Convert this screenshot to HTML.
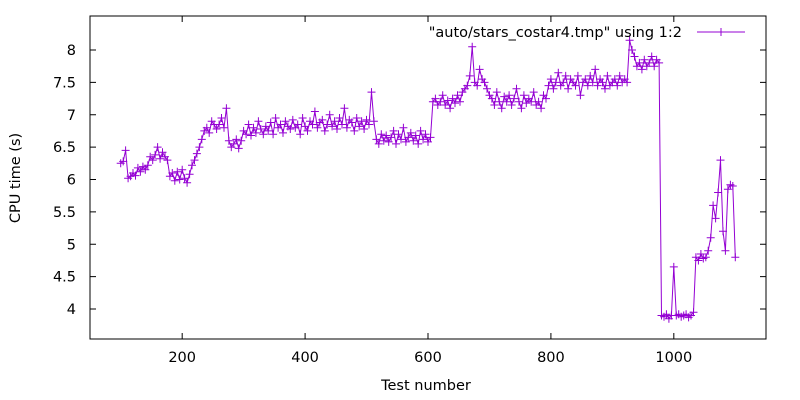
<!DOCTYPE html>
<html><head><meta charset="utf-8"><style>
body{margin:0;background:#fff;}
svg{display:block;font-family:"DejaVu Sans","Liberation Sans",sans-serif;}
</style></head><body>
<svg id="chart" width="800" height="400" viewBox="0 0 800 400">
<rect x="0" y="0" width="800" height="400" fill="#fff"/>
<g id="ticks"></g>
<g id="series"></g>
<rect x="90" y="16" width="676" height="323" fill="none" stroke="#000" stroke-width="1"/>
<text x="20" y="178" font-size="14.5" text-anchor="middle" transform="rotate(-90 20 178)">CPU time (s)</text>
<text x="426" y="390" font-size="14.5" text-anchor="middle">Test number</text>
<g>
<text x="682" y="37" font-size="14.5" text-anchor="end">"auto/stars_costar4.tmp" using 1:2</text>
<line x1="697" y1="32" x2="745" y2="32" stroke="#9400d3" stroke-width="1"/>
<path d="M717 32h8M721 28v8" stroke="#9400d3" stroke-width="1"/>
</g>
</svg>
<script>
const xStart = 100;
const xStep = 4;
const cpuTimes = [
6.25,6.28,6.45,6.02,6.05,6.1,6.06,6.18,6.12,6.2,
6.15,6.22,6.35,6.3,6.38,6.5,6.32,6.42,6.35,6.3,
6.05,6.1,5.98,6.12,6.0,6.15,6.02,5.95,6.08,6.22,
6.3,6.4,6.5,6.62,6.75,6.8,6.72,6.9,6.85,6.78,
6.85,6.95,6.8,7.1,6.6,6.5,6.55,6.62,6.48,6.6,
6.75,6.7,6.85,6.68,6.8,6.72,6.9,6.78,6.7,6.82,
6.75,6.88,6.7,6.95,6.8,6.85,6.72,6.9,6.82,6.78,
6.92,6.8,6.85,6.7,6.95,6.82,6.75,6.9,6.85,7.05,
6.8,6.88,6.92,6.75,6.85,7.0,6.82,6.9,6.78,6.95,
6.85,7.1,6.8,6.92,6.88,6.75,6.95,6.82,6.9,6.78,
6.92,6.85,7.35,6.9,6.62,6.55,6.7,6.6,6.68,6.58,
6.65,6.75,6.55,6.7,6.62,6.8,6.58,6.65,6.72,6.6,
6.68,6.55,6.75,6.62,6.7,6.58,6.65,7.2,7.25,7.15,
7.2,7.3,7.15,7.22,7.1,7.25,7.18,7.3,7.2,7.35,
7.4,7.45,7.6,8.05,7.5,7.45,7.7,7.55,7.5,7.4,
7.3,7.25,7.15,7.35,7.2,7.1,7.28,7.2,7.3,7.15,
7.25,7.4,7.2,7.1,7.3,7.18,7.25,7.2,7.35,7.15,
7.2,7.1,7.3,7.25,7.45,7.55,7.4,7.5,7.65,7.45,
7.5,7.6,7.4,7.55,7.5,7.45,7.6,7.3,7.5,7.55,
7.45,7.6,7.5,7.7,7.45,7.55,7.5,7.4,7.6,7.45,
7.5,7.55,7.45,7.6,7.5,7.55,7.5,8.15,8.0,7.9,
7.75,7.8,7.7,7.85,7.75,7.8,7.9,7.75,7.85,7.8,
3.9,3.88,3.92,3.85,3.9,4.65,3.9,3.92,3.88,3.9,
3.92,3.87,3.9,3.95,4.8,4.75,4.85,4.78,4.8,4.9,
5.1,5.6,5.4,5.8,6.3,5.2,4.9,5.85,5.92,5.9,
4.8
];
const xTicks = [200,400,600,800,1000];
const yTicks = [4,4.5,5,5.5,6,6.5,7,7.5,8];
const yTickLabels = ["4","4.5","5","5.5","6","6.5","7","7.5","8"];

const NS = "http://www.w3.org/2000/svg";
const X0 = 50, X1 = 1150, Y0 = 3.537, Y1 = 8.525;
const L = 90, R = 766, T = 16, B = 339;
function sx(v){ return L + (v - X0) / (X1 - X0) * (R - L); }
function sy(v){ return B - (v - Y0) / (Y1 - Y0) * (B - T); }
function mk(tag, attrs, parent){
  const e = document.createElementNS(NS, tag);
  for (const k in attrs) e.setAttribute(k, attrs[k]);
  parent.appendChild(e);
  return e;
}
const tg = document.getElementById('ticks');
xTicks.forEach(v => {
  const x = sx(v);
  const p = mk('path', {d:`M${x} ${B}v-6M${x} ${T}v6`, stroke:'#000', 'stroke-width':1}, tg);
  
  
  const t = mk('text', {x:x, y:B+23, 'font-size':14.5, 'text-anchor':'middle'}, tg);
  t.textContent = String(v);
  
  
});
yTicks.forEach((v, i) => {
  const y = sy(v);
  const p = mk('path', {d:`M${L} ${y}h6M${R} ${y}h-6`, stroke:'#000', 'stroke-width':1}, tg);
  
  
  const t = mk('text', {x:L-14, y:y+5, 'font-size':14.5, 'text-anchor':'end'}, tg);
  t.textContent = yTickLabels[i];
  
  
});
const sg = document.getElementById('series');
const pts = cpuTimes.map((v, i) => [sx(xStart + i * xStep), sy(v)]);
const line = mk('polyline', {points: pts.map(p => p[0].toFixed(1) + ',' + p[1].toFixed(1)).join(' '), fill:'none', stroke:'#9400d3', 'stroke-width':1}, sg);


let d = '';
pts.forEach(p => { d += `M${(p[0]-4).toFixed(1)} ${p[1].toFixed(1)}h8M${p[0].toFixed(1)} ${(p[1]-4).toFixed(1)}v8`; });
const marks = mk('path', {d:d, stroke:'#9400d3', 'stroke-width':1, fill:'none'}, sg);


</script>
</body></html>
